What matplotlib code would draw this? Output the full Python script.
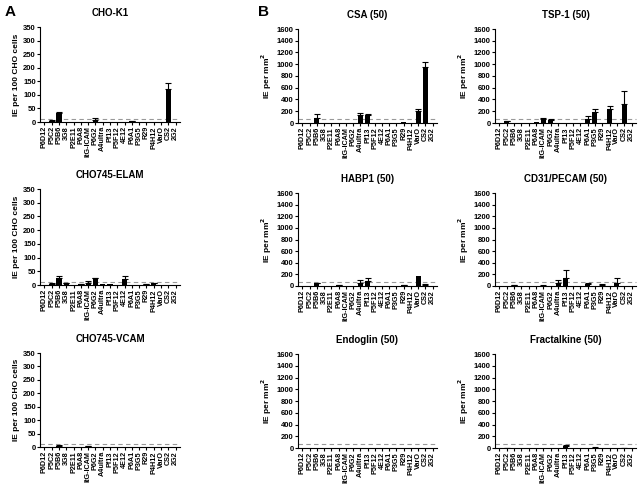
import numpy as np
import matplotlib
matplotlib.use("Agg")
import matplotlib.pyplot as plt

plt.rcParams["font.family"] = ["Liberation Sans", "DejaVu Sans"]
plt.rcParams["font.weight"] = "bold"

# ---------------------------------------------------------------------------
# Data
# ---------------------------------------------------------------------------
categories = ["P6D12", "P5C2", "P5B6", "3G8", "P2E11", "P6A8", "ItG-ICAM",
              "P6G2", "A4ultra", "Pf13", "P5F12", "4E12", "P6A1", "P3G5",
              "R29", "P4H12", "VarO", "CS2", "2G2"]

# panel A (IE per 100 CHO cells): mean, upper error
cho_k1 = [0, 5, 32, 0, 0, 0, 0, 8, 0, 0, 0, 0, 2, 0, 0, 0, 0, 122, 0]
cho_k1_err = [0, 1, 4, 0, 0, 0, 0, 7, 0, 0, 0, 0, 1, 0, 0, 0, 0, 20, 0]
elam = [0, 5, 25, 6, 0, 3, 8, 24, 2, 2, 1, 22, 0, 0, 3, 6, 1, 0, 0]
elam_err = [0, 1, 6, 1, 0, 1, 7, 3, 0, 0, 0, 10, 0, 0, 1, 3, 0, 0, 0]
vcam = [0, 0, 4, 0, 0, 0, 3, 1, 0, 0, 0, 0, 1, 0, 1, 0, 0, 0, 0]
vcam_err = [0, 0, 2, 0, 0, 0, 2, 0, 0, 0, 0, 0, 0, 0, 0, 0, 0, 0, 0]

# panel B (IE per mm2)
csa = [5, 5, 90, 0, 0, 5, 0, 0, 140, 140, 0, 0, 0, 0, 10, 0, 210, 960, 0]
csa_err = [0, 0, 60, 0, 0, 0, 0, 0, 35, 20, 0, 0, 0, 0, 0, 0, 30, 70, 0]
tsp1 = [0, 30, 0, 5, 8, 15, 70, 50, 0, 0, 5, 5, 65, 185, 0, 240, 0, 320, 0]
tsp1_err = [0, 5, 0, 0, 0, 0, 20, 20, 0, 0, 0, 0, 60, 50, 0, 50, 0, 230, 0]
habp1 = [0, 5, 45, 5, 0, 10, 0, 0, 55, 85, 0, 0, 0, 0, 20, 0, 170, 25, 0]
habp1_err = [0, 0, 10, 0, 0, 5, 0, 0, 55, 55, 0, 0, 0, 0, 5, 0, 0, 10, 0]
pecam = [0, 3, 20, 0, 0, 0, 8, 3, 60, 130, 0, 0, 30, 0, 25, 0, 50, 0, 0]
pecam_err = [0, 0, 5, 0, 0, 0, 4, 0, 35, 140, 0, 0, 30, 0, 5, 0, 90, 0, 0]
endoglin = [0, 3, 0, 3, 0, 0, 0, 3, 0, 0, 0, 0, 3, 0, 0, 3, 0, 0, 0]
endoglin_err = [0] * 19
fractalkine = [0, 5, 0, 2, 0, 2, 0, 2, 0, 30, 0, 0, 3, 8, 0, 0, 0, 5, 0]
fractalkine_err = [0, 2, 0, 0, 0, 0, 0, 0, 0, 15, 0, 0, 0, 3, 0, 0, 0, 2, 0]

W, H = 639, 486


def px_axes(fig, left, right, top, bottom):
    return fig.add_axes([left / W, 1 - bottom / H, (right - left) / W, (bottom - top) / H])


def draw_panel(ax, title, vals, errs, ymax, ystep, ylabel, cutoff):
    x = np.arange(len(categories))
    vals = np.array(vals, dtype=float)
    errs = np.array(errs, dtype=float)
    ax.bar(x, vals, width=0.7, color="black", zorder=3)
    has_err = errs > 0
    ax.errorbar(x[has_err], vals[has_err], yerr=[np.zeros(has_err.sum()), errs[has_err]],
                fmt="none", ecolor="black", elinewidth=0.8, capsize=2, capthick=0.8, zorder=3)
    ax.axhline(cutoff, color="#999999", linestyle=(0, (4, 3)), linewidth=0.8, zorder=2,
               clip_on=False)
    ax.set_xlim(-0.6, len(categories) - 0.4)
    ax.set_ylim(0, ymax)
    ax.set_yticks(np.arange(0, ymax + 1, ystep))
    ax.set_xticks(x)
    ax.set_xticklabels(categories, rotation=90, fontsize=5.2, fontweight="bold")
    ax.tick_params(axis="y", labelsize=5.5, length=2, width=0.8, pad=1)
    ax.tick_params(axis="x", length=2, width=0.8, pad=1)
    for s in ["top", "right"]:
        ax.spines[s].set_visible(False)
    for s in ["left", "bottom"]:
        ax.spines[s].set_linewidth(0.8)
    ax.set_title(title, fontsize=7, fontweight="bold", pad=8)
    ax.set_ylabel(ylabel, fontsize=6, fontweight="bold", labelpad=2)


fig = plt.figure(figsize=(W / 100, H / 100), dpi=100)

a_rows = [(27, 122), (189, 285), (353, 447)]
b_rows = [(29, 123), (193, 286), (354, 448)]
ylab_a = "IE per 100 CHO cells"
ylab_b = "IE per mm$^\\mathbf{2}$"

panels_a = [("CHO-K1", cho_k1, cho_k1_err),
            ("CHO745-ELAM", elam, elam_err),
            ("CHO745-VCAM", vcam, vcam_err)]
for (top, bottom), (title, v, e) in zip(a_rows, panels_a):
    ax = px_axes(fig, 40, 180, top, bottom)
    draw_panel(ax, title, v, e, 350, 50, ylab_a, 10)

panels_b = [[("CSA (50)", csa, csa_err), ("TSP-1 (50)", tsp1, tsp1_err)],
            [("HABP1 (50)", habp1, habp1_err), ("CD31/PECAM (50)", pecam, pecam_err)],
            [("Endoglin (50)", endoglin, endoglin_err), ("Fractalkine (50)", fractalkine, fractalkine_err)]]
b_cols = [(298, 437), (495, 636)]
for (top, bottom), row in zip(b_rows, panels_b):
    for (left, right), (title, v, e) in zip(b_cols, row):
        ax = px_axes(fig, left, right, top, bottom)
        draw_panel(ax, title, v, e, 1600, 200, ylab_b, 75)

fig.text(5 / W, 1 - 12 / H, "A", fontsize=11, fontweight="bold", va="center", ha="left")
fig.text(258 / W, 1 - 12 / H, "B", fontsize=11, fontweight="bold", va="center", ha="left")

fig.savefig("out.png", dpi=100)
